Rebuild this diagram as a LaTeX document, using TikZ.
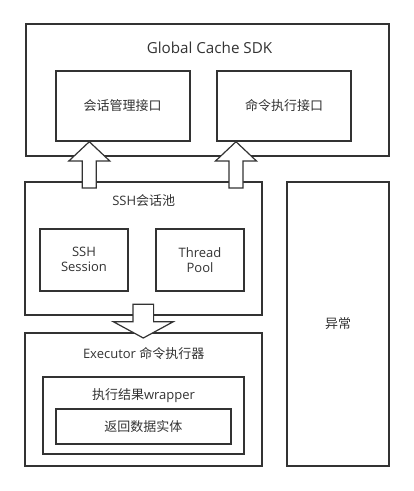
\documentclass[tikz,border=0pt]{standalone}
\usepackage{fontspec}
\setmainfont{Open Sans}
\newfontfamily\cjk{Noto Sans CJK SC}
\usetikzlibrary{calc}
\definecolor{ink}{HTML}{333333}
\tikzset{
  box/.style={draw=ink, line width=2pt, fill=white, inner sep=0pt, rectangle},
  lbl/.style={text=ink, font=\fontsize{13}{16}\selectfont, inner sep=0pt, align=center},
  biglbl/.style={lbl, font=\fontsize{15.2}{18}\selectfont},
  blockarrow/.style={draw=ink, line width=1.2pt, fill=white, line join=miter},
}
\begin{document}
\begin{tikzpicture}[x=1pt,y=-1pt]
\useasboundingbox[fill=white] (0,0) rectangle (414,491);
% SDK
\node[box, minimum width=363pt, minimum height=131.4pt] (sdk) at (207.5,90) {};
\node[biglbl] (sdkt) at (209.5,48) {Global Cache SDK};
\node[box, minimum width=134pt, minimum height=70pt, lbl] (sess) at (122.7,105.7) {\cjk 会话管理接口};
\node[box, minimum width=134pt, minimum height=70pt, lbl] (cmd) at (284,105.7) {\cjk 命令执行接口};
% SSH pool
\node[box, minimum width=237.3pt, minimum height=133.3pt] (pool) at (143.7,248.3) {};
\node[lbl] (poolt) at (143.7,200.7) {SSH{\cjk 会话池}};
\node[box, minimum width=88.6pt, minimum height=61.7pt, lbl] (ssh) at (84,259.8) {SSH\\[-1pt]Session};
\node[box, minimum width=88.6pt, minimum height=61.7pt, lbl] (tp) at (200,259.8) {Thread\\[-1pt]Pool};
% exception
\node[box, minimum width=102pt, minimum height=284pt, lbl] (exc) at (338,323.7) {\cjk 异常};
% executor
\node[box, minimum width=237.3pt, minimum height=133pt] (exe) at (143.7,399.2) {};
\node[lbl] (exet) at (143.7,353.3) {Executor {\cjk 命令执行器}};
\node[box, minimum width=201.6pt, minimum height=77pt] (wrap) at (143.5,415.5) {};
\node[lbl] (wrapt) at (143.5,395.7) {{\cjk 执行结果}wrapper};
\node[box, minimum width=175.3pt, minimum height=35.3pt, lbl] (ent) at (143.3,426.3) {\cjk 返回数据实体};
% up arrows
\coordinate (t1) at (89.3,0 |- sess.south);
\coordinate (b1) at (89.3,0 |- pool.north);
\draw[blockarrow] (t1) -- ($(t1)+(20.5,19.3)$) -- ($(t1)+(7,19.3)$) -- ($(b1)+(7,7.3)$)
  -- ($(b1)+(-7,7.3)$) -- ($(t1)+(-7,19.3)$) -- ($(t1)+(-20.5,19.3)$) -- cycle;
\coordinate (t2) at (236,0 |- cmd.south);
\coordinate (b2) at (236,0 |- pool.north);
\draw[blockarrow] (t2) -- ($(t2)+(20.5,19.3)$) -- ($(t2)+(7,19.3)$) -- ($(b2)+(7,7.3)$)
  -- ($(b2)+(-7,7.3)$) -- ($(t2)+(-7,19.3)$) -- ($(t2)+(-20.5,19.3)$) -- cycle;
% down arrow
\coordinate (t3) at (143.3,0 |- exe.north);
\coordinate (b3) at (143.3,0 |- pool.south);
\draw[blockarrow] ($(t3)+(0,6.3)$) -- ($(t3)+(30,-10)$) -- ($(t3)+(10.3,-10)$) -- ($(b3)+(10.3,-11.7)$)
  -- ($(b3)+(-10.3,-11.7)$) -- ($(t3)+(-10.3,-10)$) -- ($(t3)+(-30,-10)$) -- cycle;
\end{tikzpicture}
\end{document}
